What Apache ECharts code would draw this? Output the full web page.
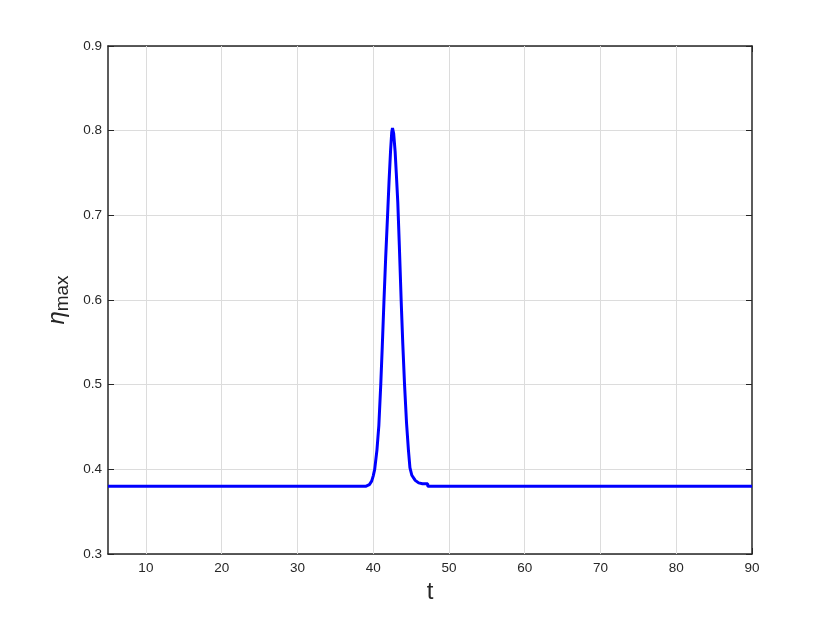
<!DOCTYPE html>
<html>
<head>
<meta charset="utf-8">
<title>eta max vs t</title>
<script src="https://cdn.jsdelivr.net/npm/echarts@6/dist/echarts.min.js"></script>
<style>
  html, body { margin: 0; padding: 0; background: #fff; }
  #chart { width: 830px; height: 623px; }
</style>
</head>
<body>
<div id="chart"></div>
<script>
// t values (x)
const tValues = [
  5, 38.5, 39.0, 39.5, 39.8, 40.0, 40.2, 40.5, 40.75, 41.0, 41.2, 41.42, 41.65,
  41.9, 42.1, 42.3, 42.45, 42.55, 42.7, 42.9, 43.05, 43.25, 43.45, 43.7, 43.9,
  44.14, 44.4, 44.65, 44.85, 45.1, 45.55, 46.0, 46.5, 47.2, 47.2, 90
];
// eta_max values (y)
const etaValues = [
  0.380, 0.380, 0.380, 0.382, 0.386, 0.392, 0.400, 0.423, 0.452, 0.500, 0.545, 0.598, 0.650,
  0.700, 0.741, 0.777, 0.798, 0.803, 0.797, 0.775, 0.750, 0.715, 0.665, 0.598, 0.550,
  0.500, 0.455, 0.423, 0.402, 0.393, 0.387, 0.384, 0.383, 0.383, 0.380, 0.380
];
const xTicks = [10, 20, 30, 40, 50, 60, 70, 80, 90];
const yTicks = [0.3, 0.4, 0.5, 0.6, 0.7, 0.8, 0.9];

const FONT = "'Liberation Sans', Arial, Helvetica, sans-serif";
const AXIS_COLOR = "#262626";
const GRID_COLOR = "#dcdcdc";

const chart = echarts.init(document.getElementById("chart"));

const boxAxisLine = { show: true, onZero: false, lineStyle: { color: AXIS_COLOR, width: 1.5 } };
const inTick = { show: true, inside: true, length: 6, lineStyle: { color: AXIS_COLOR, width: 1 } };

const option = {
  animation: false,
  backgroundColor: "#fff",
  grid: { left: 108, right: 78, top: 46, bottom: 69, containLabel: false },
  xAxis: [
    {
      type: "value",
      min: 5,
      max: 90,
      position: "bottom",
      axisLine: boxAxisLine,
      axisTick: Object.assign({}, inTick, { customValues: xTicks }),
      axisLabel: {
        customValues: xTicks,
        color: AXIS_COLOR,
        fontSize: 13.5,
        fontFamily: FONT,
        margin: 7,
      },
      splitLine: { show: false },
      name: "t",
      nameLocation: "middle",
      nameGap: 19,
      nameTextStyle: { color: AXIS_COLOR, fontSize: 24, fontFamily: FONT },
    },
    {
      type: "value",
      min: 5,
      max: 90,
      position: "top",
      axisLine: boxAxisLine,
      axisTick: Object.assign({}, inTick, { customValues: xTicks }),
      axisLabel: { show: false },
      splitLine: { show: false },
    },
  ],
  yAxis: [
    {
      type: "value",
      min: 0.3,
      max: 0.9,
      interval: 0.1,
      position: "left",
      axisLine: boxAxisLine,
      axisTick: inTick,
      axisLabel: {
        color: AXIS_COLOR,
        fontSize: 13.5,
        fontFamily: FONT,
        margin: 6,
        formatter: (v) => v.toFixed(1),
      },
      splitLine: { show: true, lineStyle: { color: GRID_COLOR, width: 1 } },
      name: "{g|η}{s|max}",
      nameLocation: "middle",
      nameGap: 32,
      nameRotate: 90,
      nameTextStyle: {
        color: AXIS_COLOR,
        fontFamily: FONT,
        rich: {
          g: { fontSize: 24, fontFamily: FONT, fontStyle: "italic", color: AXIS_COLOR },
          s: { fontSize: 19, fontFamily: FONT, color: AXIS_COLOR, padding: [12, 0, 0, 0] },
        },
      },
    },
    {
      type: "value",
      min: 0.3,
      max: 0.9,
      interval: 0.1,
      position: "right",
      axisLine: boxAxisLine,
      axisTick: inTick,
      axisLabel: { show: false },
      splitLine: { show: false },
    },
  ],
  series: [
    {
      // vertical grid lines at the x ticks
      type: "line",
      xAxisIndex: 0,
      yAxisIndex: 0,
      data: [],
      silent: true,
      markLine: {
        silent: true,
        symbol: "none",
        label: { show: false },
        lineStyle: { color: GRID_COLOR, width: 1, type: "solid" },
        data: xTicks.slice(0, -1).map((x) => ({ xAxis: x })),
      },
      z: 1,
    },
    {
      name: "eta_max",
      type: "line",
      xAxisIndex: 0,
      yAxisIndex: 0,
      data: tValues.map((t, i) => [t, etaValues[i]]),
      showSymbol: false,
      symbol: "none",
      lineStyle: { color: "#0000ff", width: 3 },
      z: 5,
    },
  ],
};

chart.setOption(option);
</script>
</body>
</html>
